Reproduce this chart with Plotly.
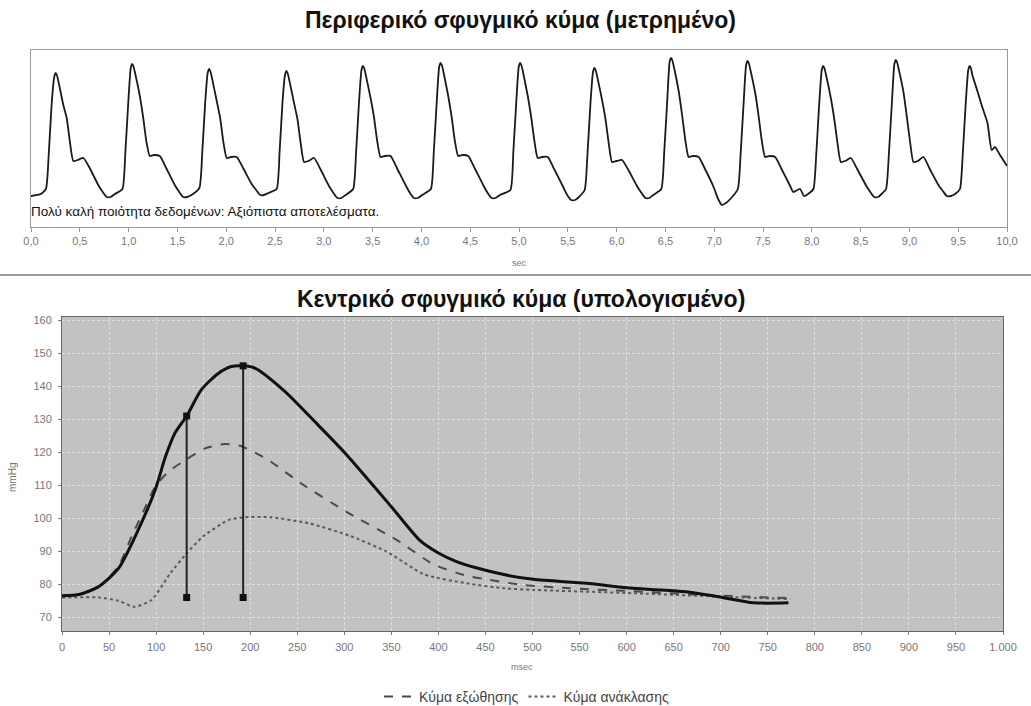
import plotly.graph_objects as go

# ---------------- Top chart: peripheral pulse wave (measured) ----------------
periph_t = [
    0.000, 0.100, 0.153, 0.183, 0.213, 0.238, 0.253, 0.265, 0.280, 0.331, 0.366, 0.399, 0.433, 0.478, 0.536, 0.601, 0.689, 0.735, 0.775, 0.815, 0.860,
    0.937, 0.967, 0.997, 1.022, 1.037, 1.049, 1.064, 1.115, 1.150, 1.183, 1.217, 1.262, 1.320, 1.385, 1.473, 1.519, 1.559, 1.599, 1.644,
    1.725, 1.755, 1.785, 1.810, 1.825, 1.837, 1.852, 1.903, 1.938, 1.971, 2.005, 2.050, 2.108, 2.173, 2.261, 2.307, 2.347, 2.387, 2.432,
    2.517, 2.547, 2.577, 2.602, 2.617, 2.629, 2.644, 2.695, 2.730, 2.763, 2.797, 2.842, 2.900, 2.965, 3.053, 3.099, 3.139, 3.179, 3.224,
    3.301, 3.331, 3.361, 3.386, 3.401, 3.413, 3.428, 3.479, 3.514, 3.547, 3.581, 3.626, 3.684, 3.749, 3.837, 3.883, 3.923, 3.963, 4.008,
    4.097, 4.127, 4.157, 4.182, 4.197, 4.209, 4.224, 4.275, 4.310, 4.343, 4.377, 4.422, 4.480, 4.545, 4.633, 4.679, 4.719, 4.759, 4.804,
    4.912, 4.942, 4.972, 4.997, 5.012, 5.024, 5.039, 5.090, 5.125, 5.158, 5.192, 5.237, 5.295, 5.360, 5.448, 5.494, 5.534, 5.574, 5.614,
    5.673, 5.703, 5.733, 5.758, 5.773, 5.785, 5.800, 5.851, 5.886, 5.919, 5.953, 5.998, 6.056, 6.121, 6.209, 6.255, 6.295, 6.335, 6.375,
    6.458, 6.488, 6.518, 6.543, 6.558, 6.570, 6.585, 6.636, 6.671, 6.704, 6.738, 6.783, 6.841, 6.906, 6.994, 7.040, 7.080, 7.120, 7.165,
    7.242, 7.272, 7.302, 7.327, 7.342, 7.354, 7.369, 7.420, 7.455, 7.488, 7.522, 7.567, 7.625, 7.690, 7.778, 7.810, 7.880, 7.920, 7.975,
    8.017, 8.047, 8.077, 8.102, 8.117, 8.129, 8.144, 8.195, 8.230, 8.263, 8.297, 8.342, 8.400, 8.465, 8.553, 8.599, 8.639, 8.679, 8.715,
    8.761, 8.791, 8.821, 8.846, 8.861, 8.873, 8.888, 8.939, 8.974, 9.007, 9.041, 9.086, 9.144, 9.209, 9.297, 9.343, 9.383, 9.423, 9.468,
    9.518, 9.548, 9.578, 9.603, 9.618, 9.630, 9.645, 9.700, 9.740, 9.800, 9.843, 9.877, 9.928, 10.000,
]
periph_amp = [
    31, 33, 38, 75, 125, 150, 154, 152, 146, 122, 109, 85, 66, 67, 69, 59, 42, 35, 30, 30, 33,
    38, 75, 125, 159, 163, 161, 155, 131, 109, 85, 71, 72, 71, 59, 42, 35, 30, 30, 32,
    39, 75, 125, 154, 158, 156, 150, 126, 109, 85, 69, 70, 70, 59, 43, 37, 32, 32, 34,
    38, 75, 125, 152, 156, 154, 148, 124, 108, 84, 65, 66, 69, 58, 41, 34, 29, 29, 32,
    38, 75, 125, 157, 161, 159, 153, 129, 110, 86, 70, 71, 71, 59, 42, 34, 29, 29, 32,
    38, 75, 125, 160, 164, 162, 156, 131, 110, 86, 71, 72, 71, 59, 42, 34, 29, 29, 32,
    37, 75, 125, 160, 164, 162, 156, 131, 110, 86, 69, 70, 70, 58, 41, 32, 27, 27, 30,
    37, 75, 125, 155, 159, 157, 151, 127, 108, 84, 65, 66, 67, 57, 41, 34, 29, 29, 32,
    38, 75, 125, 165, 169, 167, 161, 136, 112, 87, 70, 71, 70, 58, 40, 28, 22, 24, 28,
    38, 75, 125, 162, 166, 164, 158, 134, 111, 86, 70, 71, 70, 58, 41, 35, 38, 31, 34,
    38, 75, 125, 157, 161, 159, 153, 129, 108, 84, 65, 66, 69, 58, 42, 35, 30, 30, 33,
    38, 75, 125, 163, 167, 165, 159, 135, 110, 85, 65, 66, 70, 58, 42, 36, 31, 31, 33,
    38, 75, 125, 157, 161, 159, 152, 135, 122, 104, 77, 80, 72, 61,
]
top_tick_vals = [0.0, 0.5, 1.0, 1.5, 2.0, 2.5, 3.0, 3.5, 4.0, 4.5, 5.0, 5.5, 6.0, 6.5, 7.0, 7.5, 8.0, 8.5, 9.0, 9.5, 10.0]
top_tick_text = ["0,0", "0,5", "1,0", "1,5", "2,0", "2,5", "3,0", "3,5", "4,0", "4,5", "5,0",
                 "5,5", "6,0", "6,5", "7,0", "7,5", "8,0", "8,5", "9,0", "9,5", "10,0"]

# ---------------- Bottom chart: central pulse wave (computed) ----------------
central_ms = [0, 19, 39, 60, 81, 99, 110, 120, 132.5, 148, 166, 180, 192.5, 205, 237, 272, 300, 350,
              380, 400, 420, 440, 472, 501, 557, 607, 660, 696, 735, 772]
central_mmhg = [76.5, 77, 79.3, 84.8, 96.5, 108.6, 118.7, 125.8, 131, 138.9, 143.9, 146, 146.2, 145.5, 138.4,
                128.3, 120, 103.5, 93.4, 89.5, 86.8, 85, 82.8, 81.5, 80.3, 78.8, 77.8, 76.3, 74.4, 74.4]

forward_ms = [0, 19, 39, 60, 74, 88, 99, 113, 132.5, 152, 173, 190, 219, 255, 305, 356, 395, 430, 455, 490,
              540, 600, 678, 774]
forward_mmhg = [76.5, 77, 79.3, 85.5, 94.5, 103, 109.6, 114.1, 117.9, 121.2, 122.5, 121.9, 117.7, 110.4,
                101.5, 93.4, 86, 82.6, 81.3, 79.8, 78.8, 78, 76.8, 75.8]

reflected_ms = [0, 39, 60, 77, 95, 115, 132.5, 150, 177, 193, 222, 262, 305, 345, 385, 430, 470, 501, 607, 713, 774]
reflected_mmhg = [76, 76, 75, 73.2, 75.2, 83.3, 89.4, 94.5, 99.5, 100.3, 100.3, 98.5, 94.8, 89.9, 83, 80.3,
                  78.8, 78.3, 77.3, 76.1, 75.5]

marker_ms = [132.5, 192.5]
marker_top = [131, 146.2]
marker_base = 76

bottom_tick_vals = list(range(0, 1001, 50))
bottom_tick_text = ["0", "50", "100", "150", "200", "250", "300", "350", "400", "450", "500",
                    "550", "600", "650", "700", "750", "800", "850", "900", "950", "1.000"]
y_tick_vals = [70, 80, 90, 100, 110, 120, 130, 140, 150, 160]

FONT = "Liberation Sans, Arial, sans-serif"
W, H = 1031, 706

fig = go.Figure()

fig.add_trace(go.Scatter(
    x=periph_t, y=periph_amp, mode="lines", xaxis="x", yaxis="y",
    line=dict(color="#1a1a1a", width=1.8, shape="spline", smoothing=0.5),
    showlegend=False, hoverinfo="skip"))

fig.add_trace(go.Scatter(
    x=forward_ms, y=forward_mmhg, mode="lines", xaxis="x2", yaxis="y2",
    name="Κύμα εξώθησης",
    line=dict(color="#4a4a4a", width=2, dash="dash", shape="spline", smoothing=0.6)))

fig.add_trace(go.Scatter(
    x=reflected_ms, y=reflected_mmhg, mode="lines", xaxis="x2", yaxis="y2",
    name="Κύμα ανάκλασης",
    line=dict(color="#5a5a5a", width=2, dash="dot", shape="spline", smoothing=0.6)))

fig.add_trace(go.Scatter(
    x=central_ms, y=central_mmhg, mode="lines", xaxis="x2", yaxis="y2",
    line=dict(color="#111111", width=3, shape="spline", smoothing=0.7),
    showlegend=False))

for ms, top in zip(marker_ms, marker_top):
    fig.add_trace(go.Scatter(
        x=[ms, ms], y=[top, marker_base], mode="lines+markers", xaxis="x2", yaxis="y2",
        line=dict(color="#222222", width=2),
        marker=dict(symbol="square", size=7, color="#111111"),
        showlegend=False))

fig.update_layout(
    width=W, height=H,
    margin=dict(l=0, r=0, t=0, b=0, autoexpand=False),
    paper_bgcolor="white",
    plot_bgcolor="white",
    font=dict(family=FONT, color="#333333"),
    xaxis=dict(
        domain=[31 / W, 1007 / W], range=[0, 10], anchor="y", automargin=False,
        tickvals=top_tick_vals, ticktext=top_tick_text,
        tickfont=dict(size=11, color="#777777"),
        ticks="outside", ticklen=4, tickcolor="#999999",
        showline=True, mirror=True, linecolor="#9a9a9a", linewidth=1,
        showgrid=False, zeroline=False, fixedrange=True),
    yaxis=dict(
        domain=[(H - 227) / H, (H - 50) / H], range=[0, 177], anchor="x", automargin=False,
        showticklabels=False, ticks="",
        showline=True, mirror=True, linecolor="#9a9a9a", linewidth=1,
        showgrid=False, zeroline=False),
    xaxis2=dict(
        domain=[62 / W, 1003 / W], range=[0, 1000], anchor="y2", automargin=False,
        tickvals=bottom_tick_vals, ticktext=bottom_tick_text,
        tickfont=dict(size=11, color="#777777"),
        ticks="outside", ticklen=3, tickcolor="#777777", ticklabelstandoff=3,
        showline=True, mirror=True, linecolor="#666666", linewidth=1,
        showgrid=True, gridcolor="#dedede", gridwidth=1, griddash="3px,2px",
        zeroline=False),
    yaxis2=dict(
        domain=[(H - 631) / H, (H - 317) / H], range=[65.85, 161], anchor="x2", automargin=False,
        tickvals=y_tick_vals,
        tickfont=dict(size=11, color="#777777"),
        ticks="outside", ticklen=3, tickcolor="#777777", ticklabelstandoff=4,
        showline=True, mirror=True, linecolor="#666666", linewidth=1,
        showgrid=True, gridcolor="#dedede", gridwidth=1, griddash="3px,2px",
        zeroline=False),
    legend=dict(
        orientation="h", x=527 / W, xanchor="center", y=(H - 697) / H, yanchor="middle",
        font=dict(size=14, color="#444444"), itemwidth=30, bgcolor="rgba(0,0,0,0)"),
    shapes=[
        dict(type="rect", xref="x2 domain", yref="y2 domain", x0=0, x1=1, y0=0, y1=1,
             fillcolor="#c2c2c2", line=dict(width=0), layer="below"),
        dict(type="line", xref="paper", yref="paper", x0=0, x1=1,
             y0=(H - 275) / H, y1=(H - 275) / H, line=dict(color="#9a9a9a", width=2)),
    ],
    annotations=[
        dict(text="<b>Περιφερικό σφυγμικό κύμα (μετρημένο)</b>", xref="paper", yref="paper",
             x=520 / W, y=(H - 20) / H, xanchor="center", yanchor="middle", showarrow=False,
             font=dict(size=23, color="#111111", family=FONT)),
        dict(text="<b>Κεντρικό σφυγμικό κύμα (υπολογισμένο)</b>", xref="paper", yref="paper",
             x=521 / W, y=(H - 299) / H, xanchor="center", yanchor="middle", showarrow=False,
             font=dict(size=23, color="#111111", family=FONT)),
        dict(text="Πολύ καλή ποιότητα δεδομένων: Αξιόπιστα αποτελέσματα.", xref="paper", yref="paper",
             x=29 / W, y=(H - 212) / H, xanchor="left", yanchor="middle", showarrow=False,
             font=dict(size=13.5, color="#111111", family=FONT)),
        dict(text="sec", xref="paper", yref="paper",
             x=519 / W, y=(H - 263) / H, xanchor="center", yanchor="middle", showarrow=False,
             font=dict(size=9, color="#777777", family=FONT)),
        dict(text="msec", xref="paper", yref="paper",
             x=522 / W, y=(H - 667) / H, xanchor="center", yanchor="middle", showarrow=False,
             font=dict(size=9, color="#777777", family=FONT)),
        dict(text="mmHg", xref="paper", yref="paper", textangle=-90,
             x=12 / W, y=(H - 478) / H, xanchor="center", yanchor="middle", showarrow=False,
             font=dict(size=10, color="#777777", family=FONT)),
    ],
)

fig.write_html("out.html")
